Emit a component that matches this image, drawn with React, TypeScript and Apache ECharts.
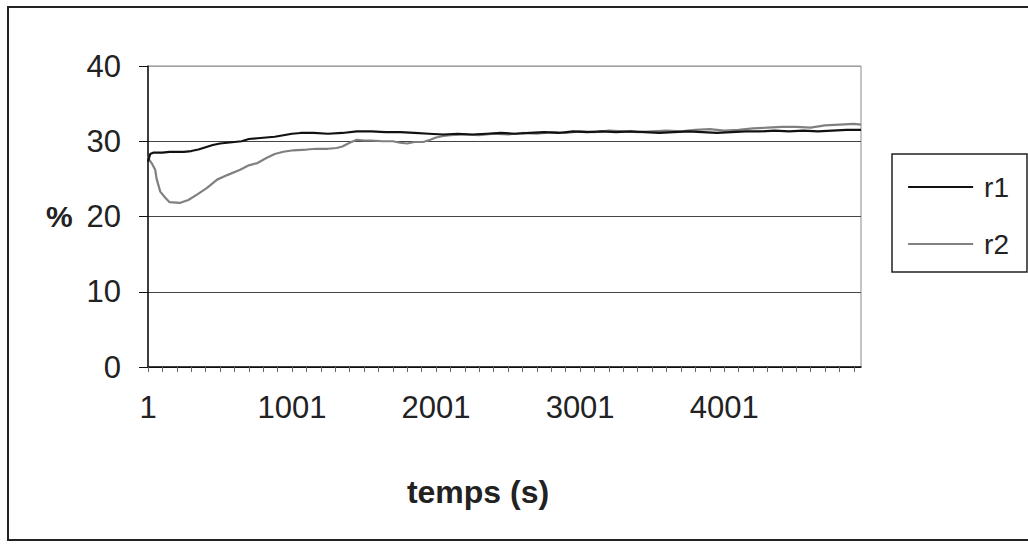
import React, { useEffect, useRef } from "react";
import * as echarts from "echarts";

// r1 (black) — time in seconds, value in %
const r1Times = [0, 15, 40, 100, 150, 200, 250, 300, 350, 400, 450, 500, 550, 600, 650, 700, 760, 820, 880, 940, 1000, 1060, 1150, 1250, 1350, 1450, 1550, 1650, 1750, 1850, 1950, 2050, 2150, 2250, 2350, 2450, 2550, 2650, 2750, 2850, 2950, 3050, 3150, 3250, 3350, 3450, 3550, 3650, 3750, 3850, 3950, 4050, 4150, 4250, 4350, 4450, 4550, 4650, 4750, 4850, 4950];
const r1Values = [27.3, 28.3, 28.5, 28.5, 28.6, 28.6, 28.6, 28.7, 28.9, 29.2, 29.5, 29.7, 29.8, 29.9, 30.0, 30.3, 30.4, 30.5, 30.6, 30.8, 31.0, 31.1, 31.1, 31.0, 31.1, 31.3, 31.3, 31.2, 31.2, 31.1, 31.0, 30.9, 31.0, 30.9, 31.0, 31.1, 31.0, 31.1, 31.2, 31.1, 31.3, 31.2, 31.3, 31.2, 31.3, 31.2, 31.1, 31.2, 31.3, 31.2, 31.1, 31.2, 31.3, 31.3, 31.4, 31.3, 31.4, 31.3, 31.4, 31.5, 31.5];

// r2 (gray)
const r2Times = [0, 10, 25, 50, 60, 85, 120, 150, 220, 280, 340, 410, 480, 550, 640, 700, 760, 825, 880, 940, 1010, 1100, 1170, 1250, 1310, 1350, 1400, 1450, 1500, 1550, 1630, 1700, 1750, 1800, 1850, 1910, 1960, 2000, 2050, 2100, 2200, 2300, 2400, 2500, 2600, 2700, 2800, 2900, 3000, 3100, 3200, 3300, 3400, 3500, 3600, 3700, 3800, 3900, 4000, 4100, 4200, 4300, 4400, 4500, 4600, 4700, 4800, 4900, 4950];
const r2Values = [28.0, 27.5, 27.1, 26.2, 25.0, 23.3, 22.5, 21.9, 21.8, 22.2, 22.9, 23.8, 24.9, 25.5, 26.2, 26.8, 27.1, 27.8, 28.3, 28.6, 28.8, 28.9, 29.0, 29.0, 29.1, 29.3, 29.8, 30.2, 30.1, 30.1, 30.0, 30.0, 29.8, 29.7, 29.9, 29.9, 30.2, 30.5, 30.7, 30.8, 30.9, 30.8, 31.0, 30.9, 31.1, 31.0, 31.2, 31.1, 31.3, 31.2, 31.4, 31.3, 31.2, 31.3, 31.4, 31.3, 31.5, 31.6, 31.4, 31.5, 31.7, 31.8, 31.9, 31.9, 31.8, 32.1, 32.2, 32.3, 32.2];

const seriesNames = ["r1", "r2"];
const seriesColors = ["#111111", "#808080"];
const xLabelSteps = [0, 1000, 2000, 3000, 4000];
const xMax = 4950;
const yTicks = [0, 10, 20, 30, 40];
const xTitle = "temps (s)";
const yTitle = "%";

const FONT = "'Liberation Sans', Arial, sans-serif";

export default function App() {
  const ref = useRef<HTMLDivElement>(null);
  useEffect(() => {
    if (!ref.current) return;
    const chart = echarts.init(ref.current, undefined, { renderer: "svg" });
    const pair = (ts: number[], vs: number[]) => ts.map((t, i) => [t, vs[i]]);
    chart.setOption({
      animation: false,
      backgroundColor: "#ffffff",
      textStyle: { fontFamily: FONT },
      grid: {
        left: 148,
        top: 66,
        width: 713,
        height: 301,
        show: true,
        borderColor: "#8a8a8a",
        borderWidth: 1,
        containLabel: false,
      },
      xAxis: {
        type: "value",
        min: 0,
        max: xMax,
        interval: 100,
        axisLine: { show: true, lineStyle: { color: "#111", width: 1.5 } },
        axisTick: { show: true, length: 5, inside: false, lineStyle: { color: "#666", width: 1 } },
        splitLine: { show: false },
        axisLabel: {
          fontSize: 31,
          color: "#222",
          fontFamily: FONT,
          margin: 25,
          showMaxLabel: false,
          formatter: (v: number) => (xLabelSteps.indexOf(v) >= 0 ? String(v + 1) : ""),
        },
      },
      yAxis: {
        type: "value",
        min: yTicks[0],
        max: yTicks[yTicks.length - 1],
        interval: 10,
        axisLine: { show: true, lineStyle: { color: "#111", width: 1.5 } },
        axisTick: { show: true, length: 9, inside: false, lineStyle: { color: "#111" } },
        splitLine: {
          show: true,
          lineStyle: { color: ["#111", "#444", "#444", "#444", "#a0a0a0"], width: 1.2 },
        },
        axisLabel: { fontSize: 31, color: "#222", fontFamily: FONT, margin: 27 },
      },
      legend: {
        orient: "vertical",
        left: 892,
        top: 154,
        width: 134,
        itemWidth: 65,
        itemHeight: 30,
        itemGap: 29,
        padding: [19, 18, 14, 15],
        borderColor: "#222",
        borderWidth: 1.5,
        data: seriesNames,
        itemStyle: { opacity: 0, borderWidth: 0 },
        lineStyle: { width: 2.2 },
        textStyle: { fontSize: 28, color: "#222", fontFamily: FONT, padding: [0, 0, 0, 6] },
      },
      series: [
        {
          name: seriesNames[0],
          type: "line",
          data: pair(r1Times, r1Values),
          showSymbol: false,
          symbol: "none",
          lineStyle: { color: seriesColors[0], width: 2.2 },
          itemStyle: { color: seriesColors[0] },
          z: 3,
        },
        {
          name: seriesNames[1],
          type: "line",
          data: pair(r2Times, r2Values),
          showSymbol: false,
          symbol: "none",
          lineStyle: { color: seriesColors[1], width: 2.2 },
          itemStyle: { color: seriesColors[1] },
          z: 2,
        },
      ],
      graphic: [
        {
          type: "rect",
          shape: { x: 8, y: 7, width: 1030, height: 533 },
          style: { fill: "none", stroke: "#222", lineWidth: 2 },
          silent: true,
        },
        {
          type: "text",
          x: 46,
          y: 216,
          style: {
            text: yTitle,
            font: `bold 30px ${FONT}`,
            fill: "#222",
            textVerticalAlign: "middle",
            verticalAlign: "middle",
          },
        },
        {
          type: "text",
          x: 478,
          y: 492,
          style: {
            text: xTitle,
            font: `bold 32px ${FONT}`,
            fill: "#222",
            textAlign: "center",
            align: "center",
            verticalAlign: "middle",
            textVerticalAlign: "middle",
          },
        },
      ],
    });
    return () => chart.dispose();
  }, []);
  return (
    <div
      ref={ref}
      style={{ position: "absolute", left: 0, top: 0, width: 1028, height: 546 }}
    />
  );
}
